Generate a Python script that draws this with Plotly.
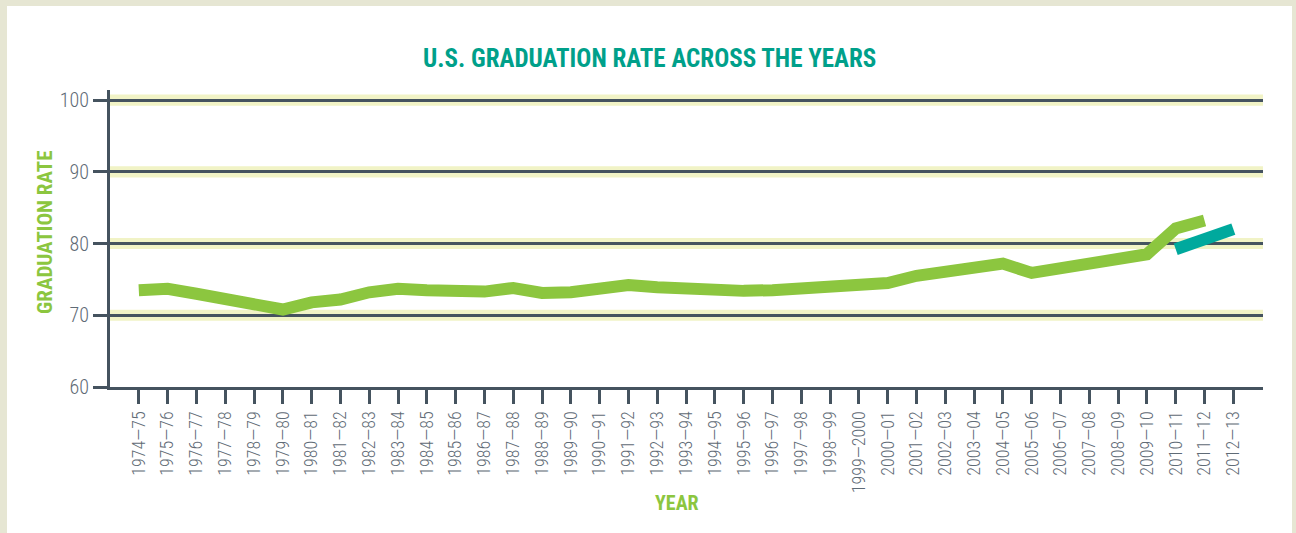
import plotly.graph_objects as go

years = ["1974—75", "1975—76", "1976—77", "1977—78", "1978—79", "1979—80", "1980—81",
         "1981—82", "1982—83", "1983—84", "1984—85", "1985—86", "1986—87", "1987—88",
         "1988—89", "1989—90", "1990—91", "1991—92", "1992—93", "1993—94", "1994—95",
         "1995—96", "1996—97", "1997—98", "1998—99", "1999—2000", "2000—01", "2001—02",
         "2002—03", "2003—04", "2004—05", "2005—06", "2006—07", "2007—08", "2008—09",
         "2009—10", "2010—11", "2011—12", "2012—13"]

green_years = years[:38]
green_values = [73.5, 73.7, 73.0, 72.3, 71.6, 70.8, 71.8, 72.2, 73.2, 73.7,
                73.5, 73.2, 73.3, 73.8, 73.1, 73.2, 73.7, 74.2, 73.9, 73.6,
                73.7, 73.4, 73.5, 73.7, 73.8, 74.4, 74.5, 75.5, 76.1, 76.6,
                77.2, 75.9, 76.5, 77.0, 77.6, 78.5, 82.1, 83.2]

teal_years = ["2010—11", "2011—12", "2012—13"]
teal_values = [79.2, 80.8, 82.0]

y_ticks = [60, 70, 80, 90, 100]
band_levels = [70, 80, 90, 100]

GREEN = "#8cc63f"
TEAL = "#00a99d"
TITLE_TEAL = "#00a08a"
DARK = "#45535f"
GREY_TXT = "#5f6b76"
BAND = "#f1f3c6"
FRAME = "#e6e6d3"
FONT = "Roboto Condensed, Liberation Sans Narrow, sans-serif"

fig = go.Figure()
fig.add_trace(go.Scatter(x=green_years, y=green_values, mode="lines",
                         line=dict(color=GREEN, width=12), hoverinfo="skip"))
fig.add_trace(go.Scatter(x=teal_years, y=teal_values, mode="lines",
                         line=dict(color=TEAL, width=12), hoverinfo="skip"))

# plot area: x 110..1263 px, y 90..387 px
shapes = [dict(type="rect", xref="paper", yref="paper",
               x0=(7 - 110) / 1153, x1=(1292 - 110) / 1153,
               y0=(387 - 560) / 297, y1=(387 - 6) / 297,
               fillcolor="white", line=dict(width=0), layer="below")]
for v in band_levels:
    shapes.append(dict(type="rect", xref="paper", yref="y", x0=0, x1=1,
                       y0=v - 0.78, y1=v + 0.78, fillcolor=BAND,
                       line=dict(width=0), layer="below"))

annotations = [
    dict(text="<b>U.S. GRADUATION RATE ACROSS THE YEARS</b>", xref="paper", yref="paper",
         x=(649 - 110) / 1153, y=(387 - 59) / 297, xanchor="center", yanchor="middle",
         showarrow=False, font=dict(family=FONT, size=25, color=TITLE_TEAL)),
    dict(text="<b>GRADUATION RATE</b>", xref="paper", yref="paper",
         x=(45 - 110) / 1153, y=(387 - 233) / 297, xanchor="center", yanchor="middle",
         textangle=-90, showarrow=False, font=dict(family=FONT, size=21, color=GREEN)),
    dict(text="<b>YEAR</b>", xref="paper", yref="paper",
         x=(677 - 110) / 1153, y=(387 - 503) / 297, xanchor="center", yanchor="middle",
         showarrow=False, font=dict(family=FONT, size=20, color=GREEN)),
]

fig.update_layout(
    width=1296, height=533,
    margin=dict(l=110, r=33, t=90, b=146),
    paper_bgcolor=FRAME, plot_bgcolor="white",
    showlegend=False,
    shapes=shapes, annotations=annotations,
    xaxis=dict(type="category", categoryorder="array", categoryarray=years,
               range=[-1, 39.03], showgrid=False, zeroline=False,
               showline=True, linecolor=DARK, linewidth=3,
               ticks="outside", ticklen=14, tickwidth=2.5, tickcolor=DARK,
               tickangle=-90, tickfont=dict(family=FONT, size=18, color=GREY_TXT, weight=300),
               fixedrange=True),
    yaxis=dict(range=[60, 101.4], tickvals=y_ticks, showgrid=True,
               gridcolor=DARK, gridwidth=2.5, zeroline=False,
               showline=True, linecolor=DARK, linewidth=3,
               ticks="outside", ticklen=14, tickwidth=2.5, tickcolor=DARK,
               tickfont=dict(family=FONT, size=20, color=GREY_TXT, weight=300),
               fixedrange=True),
)

fig.write_html("out.html", post_script="document.body.style.margin='0';",
               config={"displayModeBar": False})
